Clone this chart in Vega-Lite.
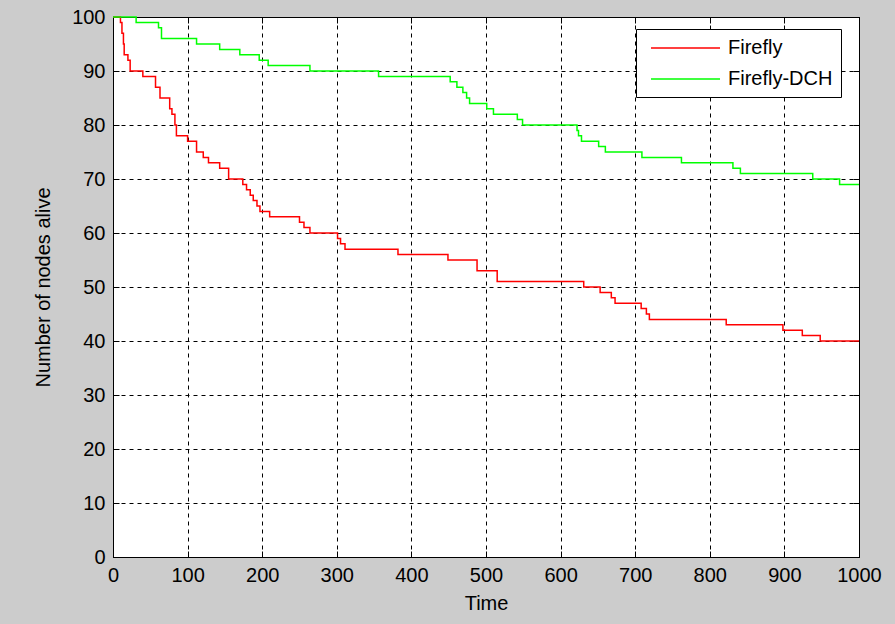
{
  "$schema": "https://vega.github.io/schema/vega-lite/v6.json",
  "width": 746,
  "height": 540,
  "autosize": {"type": "none"},
  "padding": {"left": 113, "top": 17, "right": 36, "bottom": 67},
  "background": "#cccccc",
  "config": {
    "view": {"stroke": "black", "strokeWidth": 1, "fill": "white"},
    "font": "Liberation Sans",
    "axis": {
      "labelFont": "Liberation Sans",
      "titleFont": "Liberation Sans",
      "labelFontSize": 20,
      "titleFontSize": 20,
      "titleFontWeight": "normal",
      "labelColor": "black",
      "titleColor": "black",
      "domainColor": "black",
      "tickColor": "black",
      "gridColor": "black",
      "gridDash": [4, 4],
      "gridOpacity": 1,
      "gridWidth": 1
    }
  },
  "datasets": {
    "series": [
      {"t": 0, "nodes": 100, "protocol": "Firefly"},
      {"t": 10, "nodes": 99, "protocol": "Firefly"},
      {"t": 12, "nodes": 97, "protocol": "Firefly"},
      {"t": 14, "nodes": 95, "protocol": "Firefly"},
      {"t": 15, "nodes": 93, "protocol": "Firefly"},
      {"t": 20, "nodes": 92, "protocol": "Firefly"},
      {"t": 23, "nodes": 90, "protocol": "Firefly"},
      {"t": 40, "nodes": 89, "protocol": "Firefly"},
      {"t": 57, "nodes": 87, "protocol": "Firefly"},
      {"t": 63, "nodes": 85, "protocol": "Firefly"},
      {"t": 76, "nodes": 83, "protocol": "Firefly"},
      {"t": 79, "nodes": 82, "protocol": "Firefly"},
      {"t": 83, "nodes": 80, "protocol": "Firefly"},
      {"t": 85, "nodes": 78, "protocol": "Firefly"},
      {"t": 100, "nodes": 77, "protocol": "Firefly"},
      {"t": 112, "nodes": 75, "protocol": "Firefly"},
      {"t": 121, "nodes": 74, "protocol": "Firefly"},
      {"t": 128, "nodes": 73, "protocol": "Firefly"},
      {"t": 143, "nodes": 72, "protocol": "Firefly"},
      {"t": 155, "nodes": 70, "protocol": "Firefly"},
      {"t": 174, "nodes": 69, "protocol": "Firefly"},
      {"t": 179, "nodes": 68, "protocol": "Firefly"},
      {"t": 184, "nodes": 67, "protocol": "Firefly"},
      {"t": 188, "nodes": 66, "protocol": "Firefly"},
      {"t": 193, "nodes": 65, "protocol": "Firefly"},
      {"t": 197, "nodes": 64, "protocol": "Firefly"},
      {"t": 210, "nodes": 63, "protocol": "Firefly"},
      {"t": 250, "nodes": 62, "protocol": "Firefly"},
      {"t": 256, "nodes": 61, "protocol": "Firefly"},
      {"t": 264, "nodes": 60, "protocol": "Firefly"},
      {"t": 301, "nodes": 59, "protocol": "Firefly"},
      {"t": 305, "nodes": 58, "protocol": "Firefly"},
      {"t": 311, "nodes": 57, "protocol": "Firefly"},
      {"t": 382, "nodes": 56, "protocol": "Firefly"},
      {"t": 449, "nodes": 55, "protocol": "Firefly"},
      {"t": 488, "nodes": 53, "protocol": "Firefly"},
      {"t": 515, "nodes": 51, "protocol": "Firefly"},
      {"t": 631, "nodes": 50, "protocol": "Firefly"},
      {"t": 653, "nodes": 49, "protocol": "Firefly"},
      {"t": 668, "nodes": 48, "protocol": "Firefly"},
      {"t": 673, "nodes": 47, "protocol": "Firefly"},
      {"t": 708, "nodes": 46, "protocol": "Firefly"},
      {"t": 715, "nodes": 45, "protocol": "Firefly"},
      {"t": 719, "nodes": 44, "protocol": "Firefly"},
      {"t": 822, "nodes": 43, "protocol": "Firefly"},
      {"t": 898, "nodes": 42, "protocol": "Firefly"},
      {"t": 924, "nodes": 41, "protocol": "Firefly"},
      {"t": 948, "nodes": 40, "protocol": "Firefly"},
      {"t": 1000, "nodes": 40, "protocol": "Firefly"},
      {"t": 0, "nodes": 100, "protocol": "Firefly-DCH"},
      {"t": 31, "nodes": 99, "protocol": "Firefly-DCH"},
      {"t": 61, "nodes": 98, "protocol": "Firefly-DCH"},
      {"t": 65, "nodes": 96, "protocol": "Firefly-DCH"},
      {"t": 112, "nodes": 95, "protocol": "Firefly-DCH"},
      {"t": 143, "nodes": 94, "protocol": "Firefly-DCH"},
      {"t": 170, "nodes": 93, "protocol": "Firefly-DCH"},
      {"t": 196, "nodes": 92, "protocol": "Firefly-DCH"},
      {"t": 208, "nodes": 91, "protocol": "Firefly-DCH"},
      {"t": 264, "nodes": 90, "protocol": "Firefly-DCH"},
      {"t": 356, "nodes": 89, "protocol": "Firefly-DCH"},
      {"t": 452, "nodes": 88, "protocol": "Firefly-DCH"},
      {"t": 461, "nodes": 87, "protocol": "Firefly-DCH"},
      {"t": 469, "nodes": 86, "protocol": "Firefly-DCH"},
      {"t": 474, "nodes": 85, "protocol": "Firefly-DCH"},
      {"t": 478, "nodes": 84, "protocol": "Firefly-DCH"},
      {"t": 501, "nodes": 83, "protocol": "Firefly-DCH"},
      {"t": 510, "nodes": 82, "protocol": "Firefly-DCH"},
      {"t": 542, "nodes": 81, "protocol": "Firefly-DCH"},
      {"t": 549, "nodes": 80, "protocol": "Firefly-DCH"},
      {"t": 622, "nodes": 79, "protocol": "Firefly-DCH"},
      {"t": 624, "nodes": 78, "protocol": "Firefly-DCH"},
      {"t": 628, "nodes": 77, "protocol": "Firefly-DCH"},
      {"t": 651, "nodes": 76, "protocol": "Firefly-DCH"},
      {"t": 660, "nodes": 75, "protocol": "Firefly-DCH"},
      {"t": 709, "nodes": 74, "protocol": "Firefly-DCH"},
      {"t": 762, "nodes": 73, "protocol": "Firefly-DCH"},
      {"t": 831, "nodes": 72, "protocol": "Firefly-DCH"},
      {"t": 841, "nodes": 71, "protocol": "Firefly-DCH"},
      {"t": 938, "nodes": 70, "protocol": "Firefly-DCH"},
      {"t": 974, "nodes": 69, "protocol": "Firefly-DCH"},
      {"t": 1000, "nodes": 69, "protocol": "Firefly-DCH"}
    ]
  },
  "data": {"name": "series"},
  "layer": [
    {
      "mark": {"type": "line", "opacity": 0},
      "encoding": {
        "x": {
          "field": "t", "type": "quantitative",
          "axis": {"orient": "top", "title": null, "labels": false, "grid": false, "tickSize": -6, "values": [0,100,200,300,400,500,600,700,800,900,1000]}
        },
        "y": {
          "field": "nodes", "type": "quantitative",
          "axis": {"orient": "right", "title": null, "labels": false, "grid": false, "tickSize": -6, "values": [0,10,20,30,40,50,60,70,80,90,100]}
        },
        "detail": {"field": "protocol"}
      }
    },
    {
      "mark": {"type": "line", "interpolate": "step-after", "strokeWidth": 1.5},
      "encoding": {
        "x": {
          "field": "t", "type": "quantitative",
          "scale": {"domain": [0, 1000], "nice": false, "zero": false},
          "axis": {"orient": "bottom", "title": "Time", "format": "d", "values": [0,100,200,300,400,500,600,700,800,900,1000], "grid": true, "tickSize": -6, "labelPadding": 14, "titlePadding": 8, "labelFlush": false, "labelOverlap": false}
        },
        "y": {
          "field": "nodes", "type": "quantitative",
          "scale": {"domain": [0, 100], "nice": false},
          "axis": {"orient": "left", "title": "Number of nodes alive", "format": "d", "values": [0,10,20,30,40,50,60,70,80,90,100], "grid": true, "tickSize": -6, "labelPadding": 14, "titlePadding": 18, "labelFlush": false, "labelOverlap": false}
        },
        "color": {
          "field": "protocol", "type": "nominal",
          "scale": {"domain": ["Firefly", "Firefly-DCH"], "range": ["#ff0000", "#00ff00"]},
          "legend": {
            "title": null,
            "orient": "none",
            "legendX": 523,
            "legendY": 12,
            "fillColor": "white",
            "strokeColor": "black",
            "padding": 8,
            "symbolType": "M-0.4,0H6.5",
            "symbolSize": 400,
            "symbolStrokeWidth": 1.5,
            "labelOffset": 62,
            "labelFont": "Liberation Sans",
            "labelFontSize": 20,
            "labelColor": "black",
            "rowPadding": 10
          }
        }
      }
    }
  ],
  "resolve": {"axis": {"x": "independent", "y": "independent"}}
}
